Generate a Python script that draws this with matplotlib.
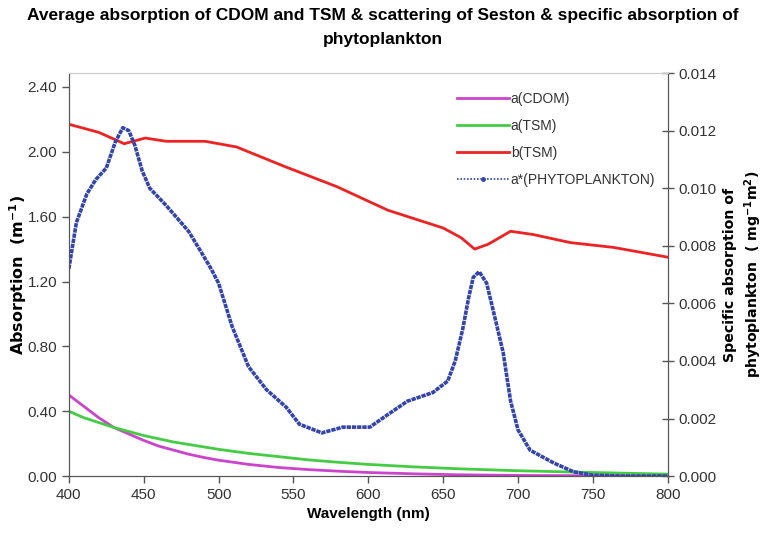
import matplotlib
matplotlib.use("Agg")
import matplotlib.pyplot as plt
from matplotlib.lines import Line2D

# wavelengths (nm) and series
wl_cdom = [400, 410, 420, 430, 440, 450, 460, 470, 480, 490, 500, 520, 540, 560,
           580, 600, 630, 660, 700, 750, 800]
a_cdom = [0.50, 0.43, 0.36, 0.30, 0.26, 0.22, 0.185, 0.16, 0.135, 0.115, 0.098,
          0.072, 0.053, 0.040, 0.030, 0.022, 0.014, 0.008, 0.004, 0.002, 0.001]
a_tsm = [0.40, 0.36, 0.33, 0.30, 0.275, 0.25, 0.23, 0.21, 0.195, 0.18, 0.165,
         0.14, 0.12, 0.10, 0.085, 0.072, 0.057, 0.045, 0.033, 0.022, 0.012]

wl_b = [400, 420, 437, 451, 465, 491, 512, 544, 579, 613, 650, 662, 671, 680,
        695, 710, 735, 764, 800]
b_tsm = [2.17, 2.12, 2.05, 2.085, 2.065, 2.065, 2.03, 1.91, 1.785, 1.64, 1.53,
         1.47, 1.40, 1.43, 1.51, 1.49, 1.44, 1.41, 1.35]

wl_ph = [400, 405, 412, 418, 425, 431, 436, 440, 444, 449, 454, 465, 480, 487,
         495, 500, 509, 520, 532, 545, 554, 569, 583, 601, 612, 626, 643, 653,
         658, 663, 667, 670, 674, 679, 685, 690, 695, 700, 708, 724, 737, 750,
         770, 800]
a_ph = [0.0072, 0.0088, 0.0098, 0.0103, 0.0107, 0.0116, 0.0121, 0.0120, 0.0115,
        0.0106, 0.0100, 0.0094, 0.0085, 0.0079, 0.0072, 0.0067, 0.0052, 0.0038,
        0.0030, 0.0024, 0.0018, 0.0015, 0.0017, 0.0017, 0.0021, 0.0026, 0.0029,
        0.0033, 0.0040, 0.0051, 0.0062, 0.0069, 0.0071, 0.0067, 0.0054, 0.0043,
        0.0026, 0.0016, 0.0009, 0.00045, 0.00015, 0.00003, 0.0, 0.0]

left_ticks = [0.0, 0.4, 0.8, 1.2, 1.6, 2.0, 2.4]
right_ticks = [0.0, 0.002, 0.004, 0.006, 0.008, 0.010, 0.012, 0.014]
x_ticks = [400, 450, 500, 550, 600, 650, 700, 750, 800]

plt.rcParams["font.family"] = "Liberation Sans"

fig = plt.figure(figsize=(7.65, 5.41), dpi=100)
ax = fig.add_axes([0.090, 0.120, 0.783, 0.745])
ax2 = ax.twinx()

ax.plot(wl_cdom, a_cdom, color="#cc44cc", lw=2)
ax.plot(wl_cdom, a_tsm, color="#44cc44", lw=2)
ax.plot(wl_b, b_tsm, color="#ee2222", lw=2)
ax2.plot(wl_ph, a_ph, color="#3344aa", lw=2.6, ls=(0, (1.2, 0.25)))

ax.set_xlim(400, 800)
ax.set_ylim(0, 2.486)
ax2.set_ylim(0, 0.014)
ax.set_xticks(x_ticks)
ax.set_yticks(left_ticks)
ax.set_yticklabels(["%.2f" % v for v in left_ticks])
ax2.set_yticks(right_ticks)
ax2.set_yticklabels(["%.3f" % v for v in right_ticks])

for a in (ax, ax2):
    for s in a.spines.values():
        s.set_color("#555555")
    a.spines["top"].set_color("#cccccc")
    a.tick_params(colors="#555555", labelcolor="#333333", labelsize=11,
                  length=5, width=1)
ax2.tick_params(axis="y", direction="inout", length=8)

ax.set_xlabel("Wavelength (nm)", fontsize=11, fontweight="bold", labelpad=4)
ax.set_ylabel(r"Absorption  (m$^{\mathregular{-1}}$)", fontsize=11.5,
              fontweight="bold", family="DejaVu Sans")
ax.yaxis.set_label_coords(-0.066, 0.5)
ax2.set_ylabel("Specific absorption of\n" +
               r"phytoplankton  ( mg$^{\mathregular{-1}}$m$^{\mathregular{2}}$)",
               fontsize=10.2, fontweight="bold", family="DejaVu Sans",
               rotation=90, linespacing=1.35)
ax2.yaxis.set_label_coords(1.092, 0.5)

fig.suptitle("Average absorption of CDOM and TSM & scattering of Seston & specific absorption of\nphytoplankton",
             fontsize=12.5, fontweight="bold", y=0.985, linespacing=1.7)

handles = [Line2D([], [], color="#cc44cc", lw=2),
           Line2D([], [], color="#44cc44", lw=2),
           Line2D([], [], color="#ee2222", lw=2),
           Line2D([], [], color="#3344aa", lw=1.2, ls=(0, (1, 1)),
                  marker="o", markersize=2.5, markevery=[1])]
labels = ["a(CDOM)", "a(TSM)", "b(TSM)", "a*(PHYTOPLANKTON)"]
leg = ax.legend(handles, labels, loc="upper right",
                bbox_to_anchor=(1.0, 0.985), frameon=False, handlelength=3.8,
                handletextpad=0.1, labelspacing=0.95, fontsize=10)
for t in leg.get_texts():
    t.set_color("#333333")

fig.savefig("out.png", dpi=100, facecolor="white")
